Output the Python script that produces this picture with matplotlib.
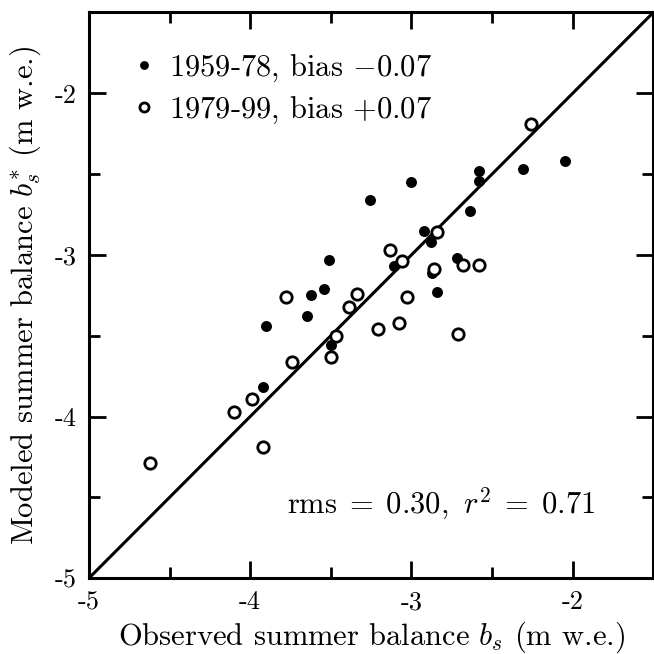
import matplotlib.pyplot as plt
from matplotlib.ticker import MultipleLocator

plt.rcParams["font.family"] = "cmr10"
plt.rcParams["mathtext.fontset"] = "cm"
plt.rcParams["axes.unicode_minus"] = False

# observed vs modeled summer balance (m w.e.)
obs_early = [-2.05, -2.31, -2.58, -2.58, -3.00, -3.26, -2.64, -2.92, -2.88, -3.51,
             -3.11, -2.72, -2.87, -2.84, -3.54, -3.62, -3.65, -3.90, -3.50, -3.92]
mod_early = [-2.42, -2.47, -2.48, -2.54, -2.55, -2.66, -2.73, -2.85, -2.92, -3.03,
             -3.07, -3.02, -3.11, -3.23, -3.21, -3.25, -3.38, -3.44, -3.56, -3.82]

obs_late = [-2.26, -2.84, -3.13, -3.06, -2.86, -2.68, -2.58, -3.78, -3.34, -3.03,
            -3.39, -3.08, -3.21, -3.47, -2.71, -3.50, -3.74, -3.99, -4.10, -3.92, -4.62]
mod_late = [-2.19, -2.86, -2.97, -3.04, -3.09, -3.06, -3.06, -3.26, -3.24, -3.26,
            -3.32, -3.42, -3.46, -3.50, -3.49, -3.63, -3.66, -3.89, -3.97, -4.19, -4.29]

ticks = [-5, -4, -3, -2]
tick_labels = ["-5", "-4", "-3", "-2"]
lims = [-5, -1.5]

fig = plt.figure(figsize=(6.54, 6.54), dpi=100)
ax = fig.add_axes([0.136, 0.116, 0.863, 0.865])

ax.plot(lims, lims, color="black", lw=2.2)
ax.plot(obs_early, mod_early, "o", color="black", ms=7.9, mew=0,
        label=r"1959-78, bias $-$0.07")
ax.plot(obs_late, mod_late, "o", mfc="white", mec="black", ms=8.2, mew=2.0,
        label=r"1979-99, bias $+$0.07")

ax.set_xlim(lims)
ax.set_ylim(lims)
ax.set_xticks(ticks)
ax.set_xticklabels(tick_labels)
ax.set_yticks(ticks)
ax.set_yticklabels(tick_labels)
ax.xaxis.set_minor_locator(MultipleLocator(0.5))
ax.yaxis.set_minor_locator(MultipleLocator(0.5))
ax.tick_params(which="both", direction="in", top=True, right=True, width=2, labelsize=19)
ax.tick_params(which="major", length=12, pad=9)
ax.tick_params(which="minor", length=8)
for s in ax.spines.values():
    s.set_linewidth(2.2)

ax.set_xlabel(r"Observed summer balance $b_s$ (m w.e.)", fontsize=22, labelpad=4)
ax.set_ylabel(r"Modeled summer balance $b_s^{*}$ (m w.e.)", fontsize=22, labelpad=8)

ax.legend(loc="upper left", bbox_to_anchor=(0.06, 0.95), frameon=False, fontsize=22,
          markerscale=0.8, handlelength=0.6, handletextpad=0.5, labelspacing=0.35,
          borderaxespad=0)

ax.text(-1.86, -4.6, r"rms$\;=\;$0.30,$\;\;r^2\;=\;0.71$", fontsize=22,
        ha="right", va="baseline")

fig.savefig("out.png")
